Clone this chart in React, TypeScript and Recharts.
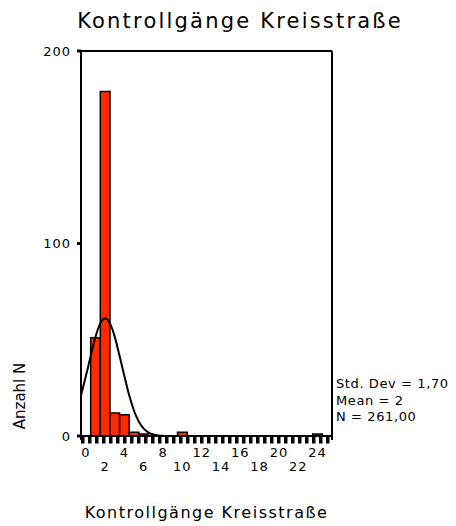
import React from "react";
import {
  Bar,
  ComposedChart,
  Line,
  ReferenceLine,
  XAxis,
  YAxis,
} from "recharts";

// Histogram bins (Kontrollgänge) and their counts
const bins = [0, 1, 2, 3, 4, 5, 6, 7, 8, 9, 10, 11, 12, 13, 14, 15, 16, 17, 18, 19, 20, 21, 22, 23, 24, 25];
const counts = [0, 51, 179, 12, 11, 2, 1, 0, 0, 0, 2, 0, 0, 0, 0, 0, 0, 0, 0, 0, 0, 0, 0, 0, 1, 0];

// Normal curve, every half step
const curveX = [-0.5, 0, 0.5, 1, 1.5, 2, 2.5, 3, 3.5, 4, 4.5, 5, 5.5, 6, 6.5, 7, 7.5, 8, 8.5, 9];
const curveY = [21, 31, 41.5, 51.5, 58.5, 61, 58.5, 51.5, 41.5, 31, 21, 13, 7.4, 3.8, 1.8, 0.8, 0.3, 0.1, 0, 0];

const xTicks = [0, 2, 4, 6, 8, 10, 12, 14, 16, 18, 20, 22, 24];
const yTicks = [0, 100, 200];

const stats = ["Std. Dev = 1,70", "Mean = 2", "N = 261,00"];

const FONT = "'DejaVu Sans', sans-serif";

const barData = bins.map((x, i) => ({ x, n: counts[i] > 0 ? counts[i] : null }));
const curveData = curveX.map((x, i) => ({ cx: x, curve: curveY[i] }));

function XTick(props: any) {
  const { x, y, payload } = props;
  const low = payload.value % 4 !== 0;
  return (
    <text
      x={x}
      y={y + (low ? 31 : 17)}
      textAnchor="middle"
      fontSize={13}
      fontFamily={FONT}
      letterSpacing={1}
      fill="#000"
    >
      {payload.value}
    </text>
  );
}

export default function App() {
  return (
    <div
      style={{
        position: "absolute",
        left: 0,
        top: 0,
        width: 456,
        height: 526,
        background: "#fff",
        fontFamily: FONT,
      }}
    >
      <div
        style={{
          position: "absolute",
          left: 0,
          width: 480,
          top: 9,
          textAlign: "center",
          fontSize: 21,
          letterSpacing: 2.2,
          color: "#000",
        }}
      >
        Kontrollgänge Kreisstraße
      </div>
      <ComposedChart
        width={456}
        height={526}
        data={barData}
        barCategoryGap={0}
        margin={{ top: 51, right: 124, bottom: 46, left: 0 }}
      >
        <XAxis
          dataKey="x"
          type="number"
          domain={[-0.5, 25.5]}
          ticks={xTicks}
          interval={0}
          tickLine={false}
          tickSize={0}
          tickMargin={0}
          height={40}
          axisLine={{ stroke: "#000", strokeWidth: 7, strokeDasharray: "3.5 3.5" }}
          tick={<XTick />}
        />
        <XAxis
          xAxisId="curve"
          dataKey="cx"
          type="number"
          domain={[-0.5, 25.5]}
          hide
        />
        <YAxis
          type="number"
          domain={[0, 200]}
          ticks={yTicks}
          width={81}
          padding={{ bottom: 4, top: 0 }}
          axisLine={{ stroke: "#000", strokeWidth: 2 }}
          tickLine={{ stroke: "#000", strokeWidth: 3 }}
          tickSize={4}
          tickMargin={6}
          tick={{ fontSize: 13, fontFamily: FONT, fill: "#000", letterSpacing: 1 }}
        />
        <ReferenceLine y={200} stroke="#000" strokeWidth={2} />
        <ReferenceLine x={25.5} stroke="#000" strokeWidth={2} />
        <Bar
          dataKey="n"
          barSize={9.65}
          fill="#ff2a00"
          stroke="#000"
          strokeWidth={1.5}
          isAnimationActive={false}
        />
        <ReferenceLine y={0} stroke="#000" strokeWidth={2} />
        <Line
          xAxisId="curve"
          data={curveData}
          dataKey="curve"
          type="monotone"
          stroke="#000"
          strokeWidth={2}
          dot={false}
          isAnimationActive={false}
        />
      </ComposedChart>
      <div
        style={{
          position: "absolute",
          left: 20,
          top: 396,
          transform: "translate(-50%, -50%) rotate(-90deg)",
          fontSize: 15,
          whiteSpace: "nowrap",
          color: "#000",
        }}
      >
        Anzahl N
      </div>
      <div
        style={{
          position: "absolute",
          left: 336,
          top: 376,
          fontSize: 13,
          letterSpacing: 0.6,
          lineHeight: "16.5px",
          color: "#000",
          whiteSpace: "nowrap",
        }}
      >
        {stats.map((s) => (
          <div key={s}>{s}</div>
        ))}
      </div>
      <div
        style={{
          position: "absolute",
          left: 81,
          width: 251,
          top: 503,
          textAlign: "center",
          fontSize: 16,
          letterSpacing: 1.5,
          color: "#000",
          whiteSpace: "nowrap",
        }}
      >
        Kontrollgänge Kreisstraße
      </div>
    </div>
  );
}
